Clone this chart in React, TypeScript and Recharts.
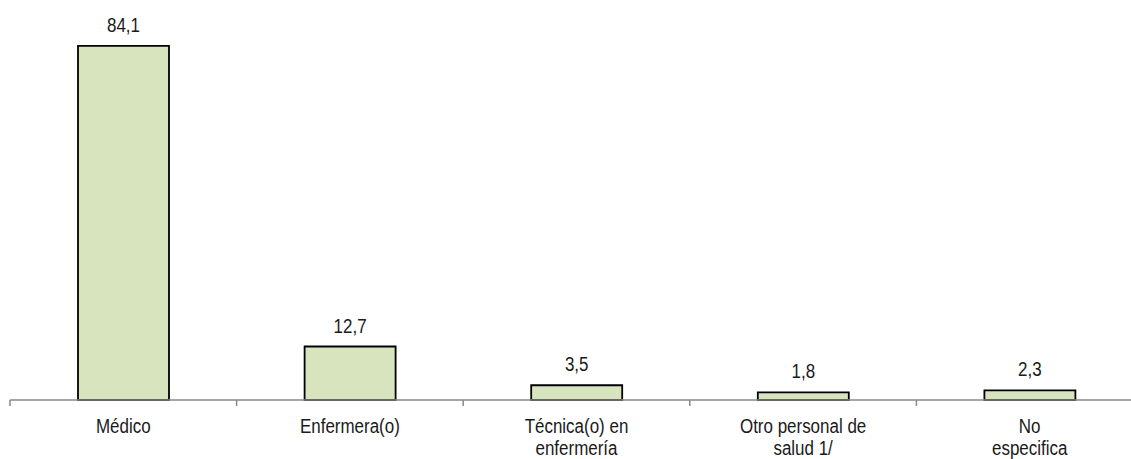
import { Bar, BarChart, LabelList, XAxis, YAxis } from 'recharts';

const categories = [
  'Médico',
  'Enfermera(o)',
  'Técnica(o) en\nenfermería',
  'Otro personal de\nsalud 1/',
  'No\nespecifica',
];
const percentages = [84.1, 12.7, 3.5, 1.8, 2.3];
const titleText = '(Porcentaje)';

const data = categories.map((name, i) => ({ name, value: percentages[i] }));

const FONT = '"Liberation Sans", Arial, sans-serif';
const TEXT_COLOR = '#1a1a1a';
const AXIS_COLOR = '#888888';
const FONT_SIZE = 19.5;
// the source uses a narrow face, so squeeze Arial horizontally
const SQUEEZE = 0.87;

const NarrowText = ({ x, y, lines, gap = 22 }: { x: number; y: number; lines: string[]; gap?: number }) => (
  <text
    transform={`translate(${x} ${y}) scale(${SQUEEZE} 1)`}
    textAnchor="middle"
    fill={TEXT_COLOR}
    fontSize={FONT_SIZE}
    fontFamily={FONT}
  >
    {lines.map((line, i) => (
      <tspan key={i} x={0} y={i * gap}>
        {line}
      </tspan>
    ))}
  </text>
);

const CategoryTick = (props: any) => {
  const { x, y, payload, index, visibleTicksCount } = props;
  const half = payload && typeof payload.offset === 'number' ? payload.offset : 113.3;
  const lines = String(payload.value).split('\n');
  const isLast = index === visibleTicksCount - 1;
  return (
    <g>
      <line x1={x - half} x2={x - half} y1={y} y2={y + 6} stroke={AXIS_COLOR} strokeWidth={1.5} />
      {isLast && (
        <line x1={x + half} x2={x + half} y1={y} y2={y + 6} stroke={AXIS_COLOR} strokeWidth={1.5} />
      )}
      <NarrowText x={x} y={y + 33} lines={lines} />
    </g>
  );
};

const ValueLabel = (props: any) => {
  const { x, y, width, value } = props;
  const text = Number(value).toFixed(1).replace('.', ',');
  return <NarrowText x={Number(x) + Number(width) / 2} y={Number(y) - 14} lines={[text]} />;
};

export default function App() {
  return (
    <div
      style={{
        position: 'fixed',
        top: 0,
        left: 0,
        width: 1131,
        height: 459,
        overflow: 'hidden',
        background: '#ffffff',
      }}
    >
      <div
        style={{
          position: 'absolute',
          top: -21,
          left: 522,
          fontFamily: FONT,
          fontSize: 20,
          lineHeight: '20px',
          color: TEXT_COLOR,
          whiteSpace: 'nowrap',
          transform: `scaleX(${SQUEEZE})`,
          transformOrigin: 'left',
        }}
      >
        {titleText}
      </div>
      <BarChart
        width={1143}
        height={459}
        data={data}
        margin={{ top: 21, right: 0, left: 10, bottom: 0 }}
        style={{ overflow: 'visible' }}
      >
        <XAxis
          dataKey="name"
          interval={0}
          height={59}
          tickSize={0}
          tickMargin={0}
          tickLine={false}
          axisLine={{ stroke: AXIS_COLOR, strokeWidth: 1.5 }}
          tick={<CategoryTick />}
        />
        <YAxis hide domain={[0, 90]} />
        <Bar
          dataKey="value"
          barSize={91}
          fill="#d7e4bd"
          stroke="#000000"
          strokeWidth={1.8}
          isAnimationActive={false}
        >
          <LabelList dataKey="value" content={<ValueLabel />} />
        </Bar>
      </BarChart>
    </div>
  );
}
